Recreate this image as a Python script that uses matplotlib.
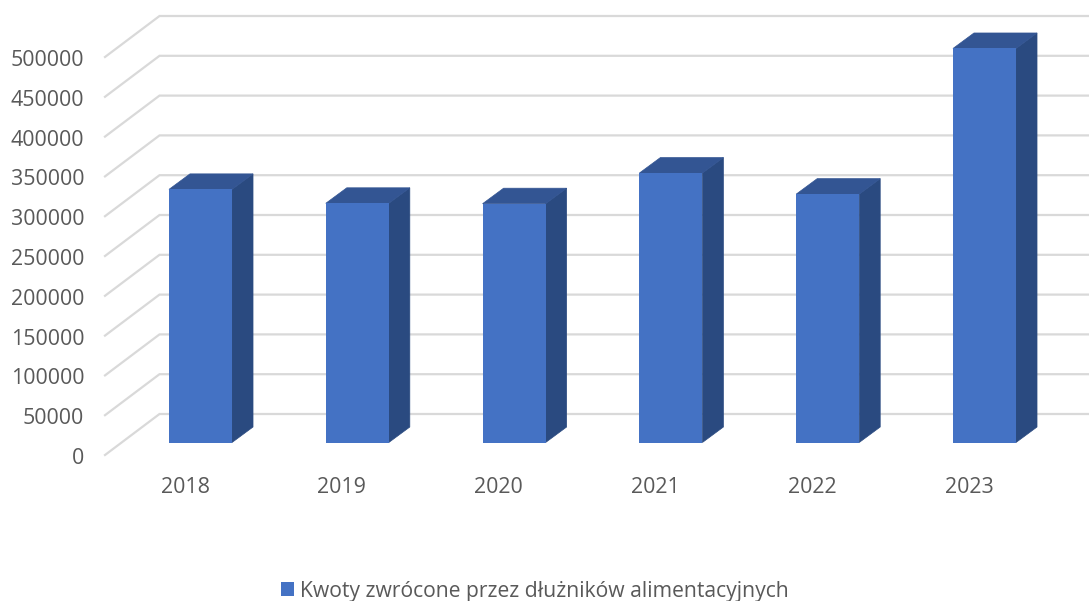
import matplotlib
matplotlib.use('Agg')
import numpy as np
from matplotlib import pyplot as plt
from matplotlib.patches import Polygon
from matplotlib.transforms import Affine2D

years = ['2018', '2019', '2020', '2021', '2022', '2023']
kwoty = [318000, 300500, 300000, 338500, 312000, 495000]
y_ticks = [0, 50000, 100000, 150000, 200000, 250000, 300000, 350000, 400000, 450000, 500000]
legend_label = 'Kwoty zwrócone przez dłużników alimentacyjnych'

W, H = 1089, 601
plt.rcParams['font.family'] = ['Open Sans', 'DejaVu Sans']

fig = plt.figure(figsize=(W / 100, H / 100), dpi=100)

# front plane of the bars, everything else is offset from it in pixels
px_bottom = 442.5
px_top = 44.5
ax = fig.add_axes([105 / W, 1 - px_bottom / H, (W - 105) / W, (px_bottom - px_top) / H])
ax.set_ylim(0, 500000)
ax.set_xlim((105 - 200.5) / 156.8, (W - 200.5) / 156.8)
for s in ax.spines.values():
    s.set_visible(False)

x = np.arange(len(years))
bar_w = 0.402
dx, dy = 21, 15.5

# gridlines, back wall plus the diagonal on the left
grid_col = '#d9d9d9'
x0 = ax.get_xlim()[0]
for v in y_ticks:
    px, py = ax.transData.transform((x0, v))
    ax.plot([px, px + 54.5, W], [py - 12.5, py + 28.5, py + 28.5], color=grid_col, lw=1.6,
            transform=None, clip_on=False, zorder=1, solid_joinstyle='miter')

for xi, val in zip(x, kwoty):
    xl, yb = ax.transData.transform((xi - bar_w / 2, 0))
    xr, yt = ax.transData.transform((xi + bar_w / 2, val))
    side = [(xr, yb), (xr + dx, yb + dy), (xr + dx, yt + dy), (xr, yt)]
    top = [(xl, yt), (xl + dx, yt + dy), (xr + dx, yt + dy), (xr, yt)]
    ax.add_patch(Polygon(side, closed=True, fc='#2a4a80', ec='#2a4a80', lw=0.5, transform=None, zorder=2, clip_on=False))
    ax.add_patch(Polygon(top, closed=True, fc='#335593', ec='#335593', lw=0.5, transform=None, zorder=2, clip_on=False))

ax.bar(x, kwoty, bar_w, color='#4472c4', label=legend_label, zorder=3)

ax.set_xticks(x, years)
ax.set_yticks(y_ticks, [str(v) for v in y_ticks])
ax.tick_params(axis='both', length=0, labelsize=15.4, labelcolor='#595959')
ax.tick_params(axis='y', pad=15)
ax.tick_params(axis='x', pad=24.5)
for lab in ax.get_yticklabels():
    lab.set_transform(lab.get_transform() + Affine2D().translate(0, -13.5))
for lab in ax.get_xticklabels():
    lab.set_transform(lab.get_transform() + Affine2D().translate(-15.5, 0))

leg = fig.legend(loc='center', bbox_to_anchor=(535 / W, 1 - 591 / H), frameon=False,
                 fontsize=15.2, labelcolor='#595959', handlelength=0.64, handleheight=0.64,
                 handletextpad=0.28, borderpad=0)

fig.savefig('out.png', dpi=100)
